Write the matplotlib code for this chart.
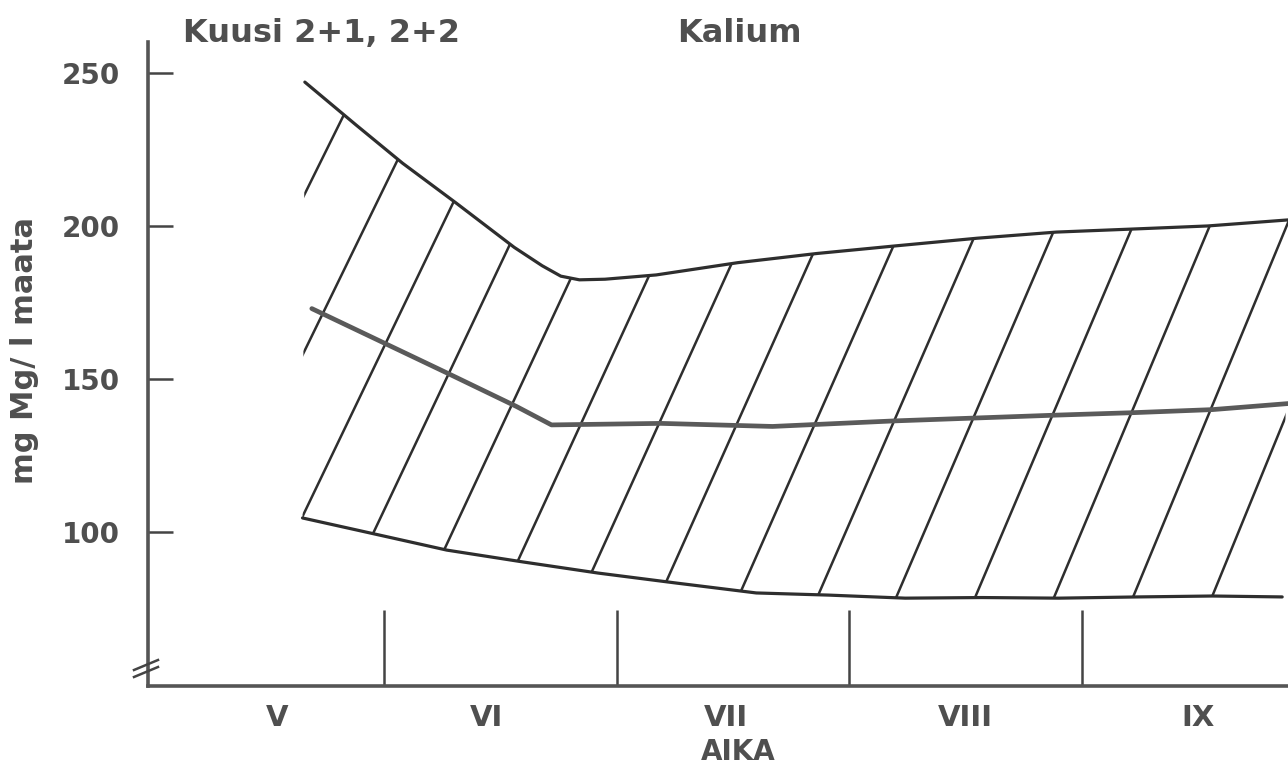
'''Kuusi 2+1, 2+2 -- Kalium, hatched band between min and max curves.'''

import numpy as np
import matplotlib
matplotlib.use('Agg')
import matplotlib.pyplot as plt
from matplotlib.patches import Polygon
from matplotlib.lines import Line2D

plt.rcParams['font.family'] = ['DejaVu Sans']
plt.rcParams['font.weight'] = 'bold'

# months, x in month units from 1 May
month_labels = ['V', 'VI', 'VII', 'VIII', 'IX']
month_pos = [0.54, 1.44, 2.47, 3.50, 4.50]
month_edges = [1, 2, 3, 4]

# upper limit curve
upper_x = [0.66, 0.88, 1.08, 1.31, 1.56, 1.68, 1.76, 1.84, 1.95, 2.17, 2.52, 2.86, 3.20, 3.55, 3.89, 4.22, 4.54, 4.89]
upper_y = [247, 233, 220.5, 207.5, 193, 187, 183.6, 182.4, 182.6, 184, 188, 191, 193.5, 196, 198, 199, 200, 202]

# mean curve
mid_x = [0.69, 0.98, 1.27, 1.57, 1.72, 2.19, 2.67, 3.19, 3.89, 4.22, 4.56, 4.89]
mid_y = [173, 162.5, 152, 141, 135, 135.5, 134.5, 136.3, 138.2, 139, 140, 142]

# lower limit curve
lower_x = [0.65, 0.94, 1.27, 1.60, 1.92, 2.26, 2.60, 2.91, 3.24, 3.57, 3.90, 4.24, 4.56, 4.86]
lower_y = [104.6, 99.7, 94.1, 90.2, 86.6, 83.3, 80.1, 79.4, 78.4, 78.6, 78.4, 78.8, 79.1, 78.8]

yticks = [100, 150, 200, 250]

ink = '#2e2e2e'
grey = '#4f4f4f'

W, H = 1288, 768
fig = plt.figure(figsize=(W/100, H/100), dpi=100)
ax = fig.add_axes([148/W, 1-686/H, (1288-148)/W, (686-42)/H])
ax.set_xlim(-0.014, 4.885)
ax.set_ylim(49.7, 260.1)

for side in ['top', 'right']:
    ax.spines[side].set_visible(False)
for side in ['left', 'bottom']:
    ax.spines[side].set_color('#555555')
    ax.spines[side].set_linewidth(2.6)

# band used to clip the hatching
band = Polygon(np.column_stack([upper_x + lower_x[::-1], upper_y + lower_y[::-1]]),
               closed=True, facecolor='none', edgecolor='none')
ax.add_patch(band)

# hand drawn hatching, slope gets a bit steeper to the right
x0, step, level = 0.514, 0.335, 136.6
for k in range(-1, 15):
    xc = x0 + step*k
    s = 156 + 30*(xc - x0)/(4.872 - x0)
    vv = np.array([40.0, 270.0])
    ln, = ax.plot(xc + (vv - level)/s, vv, color=ink, lw=1.8, solid_capstyle='round')
    ln.set_clip_path(band)

ax.plot(upper_x, upper_y, color=ink, lw=2.3, solid_capstyle='round', solid_joinstyle='round')
ax.plot(lower_x, lower_y, color=ink, lw=2.3, solid_capstyle='round', solid_joinstyle='round')
ax.plot(mid_x, mid_y, color='#5a5a5a', lw=3.4, solid_capstyle='round', solid_joinstyle='round')

ax.set_yticks(yticks)
ax.set_yticklabels([str(t) for t in yticks])
ax.tick_params(axis='y', direction='in', length=18, width=1.8, color='#444444',
               labelsize=20, labelcolor=grey, pad=20)

ax.set_xticks(month_edges)
ax.set_xticklabels([])
ax.tick_params(axis='x', which='major', direction='in', length=55, width=1.8, color='#444444')
ax.set_xticks(month_pos, minor=True)
ax.set_xticklabels(month_labels, minor=True)
ax.tick_params(axis='x', which='minor', length=0, labelsize=21, labelcolor=grey, pad=13)

# axis break mark
for dy in [0, 7]:
    fig.add_artist(Line2D([134/W, 158/W], [1-(670+dy)/H, 1-(660+dy)/H],
                          color='#444444', lw=1.8))

fig.text(183/W, 1-42/H, 'Kuusi 2+1, 2+2', ha='left', va='baseline', fontsize=23, color=grey)
fig.text(677/W, 1-42/H, 'Kalium', ha='left', va='baseline', fontsize=23, color=grey)
fig.text(738/W, 1-760/H, 'AIKA', ha='center', va='baseline', fontsize=20, color=grey)
fig.text(25/W, 1-350/H, 'mg Mg/ l maata', rotation=90, ha='center', va='center',
         fontsize=22, color=grey)

fig.savefig('out.png', dpi=100)
